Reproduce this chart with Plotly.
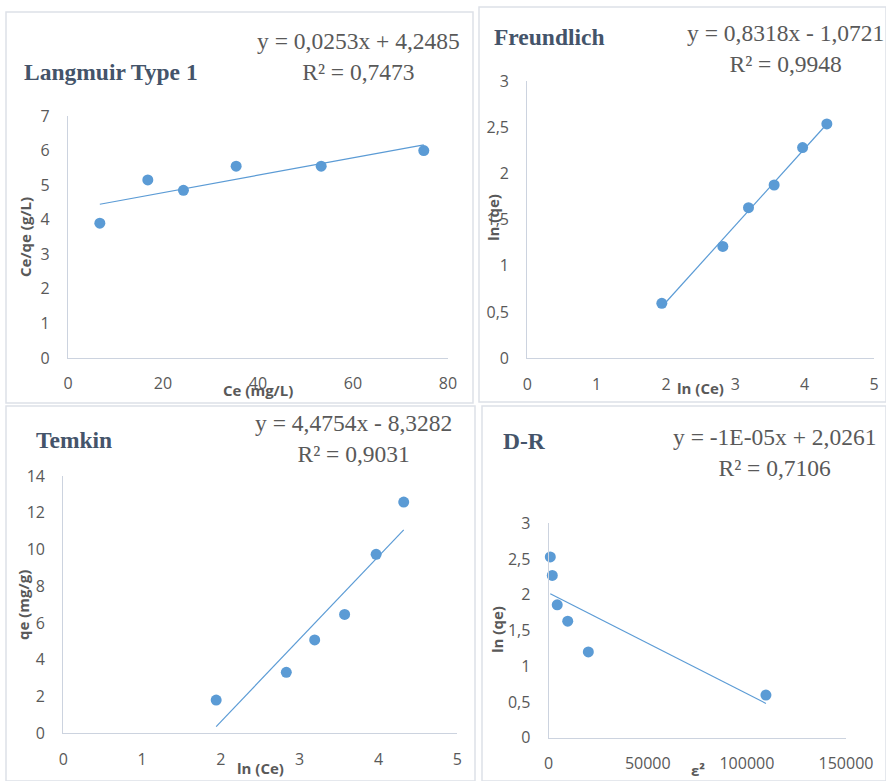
import numpy as np
import plotly.graph_objects as go

# ---------------- data ----------------
lang_ce = [6.7, 16.8, 24.3, 35.4, 53.3, 74.9]
lang_ceqe = [3.9, 5.15, 4.85, 5.55, 5.55, 6.0]

freu_lnce = [1.94, 2.82, 3.19, 3.56, 3.97, 4.32]
freu_lnqe = [0.595, 1.21, 1.63, 1.875, 2.28, 2.535]

temk_lnce = [1.94, 2.83, 3.19, 3.57, 3.97, 4.32]
temk_qe = [1.81, 3.32, 5.08, 6.47, 9.74, 12.58]

dr_eps2 = [800, 1800, 4300, 9600, 20000, 109600]
dr_lnqe = [2.53, 2.27, 1.86, 1.63, 1.20, 0.597]

titles = ["Langmuir Type 1", "Freundlich", "Temkin", "D-R"]
equations = [
    "y = 0,0253x + 4,2485<br>R² = 0,7473",
    "y = 0,8318x - 1,0721<br>R² = 0,9948",
    "y = 4,4754x - 8,3282<br>R² = 0,9031",
    "y = -1E-05x + 2,0261<br>R² = 0,7106",
]
xtitles = ["Ce (mg/L)", "ln (Ce)", "ln (Ce)", "ε²"]
ytitles = ["Ce/qe (g/L)", "ln (qe)", "qe (mg/g)", "ln (qe)"]

lang_xticks = [0, 20, 40, 60, 80]
lang_yticks = [0, 1, 2, 3, 4, 5, 6, 7]
ln_xticks = [0, 1, 2, 3, 4, 5]
half_yticks = [0, 0.5, 1, 1.5, 2, 2.5, 3]
half_ytext = ["0", "0,5", "1", "1,5", "2", "2,5", "3"]
temk_yticks = [0, 2, 4, 6, 8, 10, 12, 14]
dr_xticks = [0, 50000, 100000, 150000]

# ---------------- layout helpers ----------------
W, H = 886, 781
def px(x):
    return x / W
def py(y):
    return 1 - y / H

BLUE = "#5B9BD5"
TICK = "#595959"
AXL = "#CCD3DF"
TITLEC = "#44546A"
EQC = "#595959"

fig = go.Figure()

panels = [
    dict(x=lang_ce, y=lang_ceqe, dom=(68, 448, 116, 358), xr=[0, 80], yr=[0, 7],
         xt=lang_xticks, xtt=[str(v) for v in lang_xticks],
         yt=lang_yticks, ytt=[str(v) for v in lang_yticks],
         title_pos=(22, 72), eq_pos=(358, 57), xt_pos=(258, 390), yt_pos=(25, 237)),
    dict(x=freu_lnce, y=freu_lnqe, dom=(527.3, 874, 81, 358.3), xr=[0, 5], yr=[0, 3],
         xt=ln_xticks, xtt=[str(v) for v in ln_xticks],
         yt=half_yticks, ytt=half_ytext,
         title_pos=(492, 37), eq_pos=(785, 48), xt_pos=(700, 388), yt_pos=(493, 218)),
    dict(x=temk_lnce, y=temk_qe, dom=(63.3, 457.3, 476, 733.3), xr=[0, 5], yr=[0, 14],
         xt=ln_xticks, xtt=[str(v) for v in ln_xticks],
         yt=temk_yticks, ytt=[str(v) for v in temk_yticks],
         title_pos=(34, 440), eq_pos=(353, 438), xt_pos=(260, 768), yt_pos=(23, 605)),
    dict(x=dr_eps2, y=dr_lnqe, dom=(548.7, 846, 523.3, 737.7), xr=[0, 150000], yr=[0, 3],
         xt=dr_xticks, xtt=[str(v) for v in dr_xticks],
         yt=half_yticks, ytt=half_ytext,
         title_pos=(501, 441), eq_pos=(774, 452), xt_pos=(698, 770), yt_pos=(497, 630)),
]

annotations = []
shapes = []

# panel borders (open sides where the panel runs off the page)
boxes = [(6, 12, 473, 403), (479, 7, 886, 402), (6, 406, 475, 781), (482, 406, 886, 781)]
for (x0, y0, x1, y1) in boxes:
    shapes.append(dict(type="rect", xref="paper", yref="paper",
                       x0=px(x0), x1=px(x1), y0=py(y1), y1=py(y0),
                       line=dict(color="#DDE1E8", width=1.5), layer="below"))

for i, p in enumerate(panels):
    n = "" if i == 0 else str(i + 1)
    xa, ya = "x" + n, "y" + n
    fig.add_trace(go.Scatter(x=p["x"], y=p["y"], mode="markers", xaxis=xa, yaxis=ya,
                             marker=dict(color=BLUE, size=11), showlegend=False,
                             cliponaxis=False))
    k, b = np.polyfit(p["x"], p["y"], 1)
    xs = np.array([min(p["x"]), max(p["x"])])
    fig.add_trace(go.Scatter(x=xs, y=k * xs + b, mode="lines", xaxis=xa, yaxis=ya,
                             line=dict(color=BLUE, width=1.2), showlegend=False,
                             cliponaxis=False))
    x0, x1, y0, y1 = p["dom"]
    fig.update_layout(**{
        "xaxis" + n: dict(domain=[px(x0), px(x1)], range=p["xr"], anchor=ya,
                          showgrid=False, zeroline=False, showline=True,
                          linecolor=AXL, linewidth=1.2, ticks="", automargin=False,
                          tickvals=p["xt"], ticktext=p["xtt"],
                          tickfont=dict(family="Open Sans", size=16, color=TICK),
                          ticklabelstandoff=11),
        "yaxis" + n: dict(domain=[py(y1), py(y0)], range=p["yr"], anchor=xa,
                          showgrid=False, zeroline=False, showline=True,
                          linecolor=AXL, linewidth=1.2, ticks="", automargin=False,
                          tickvals=p["yt"], ticktext=p["ytt"],
                          tickfont=dict(family="Open Sans", size=16, color=TICK),
                          ticklabelstandoff=14),
    })
    tx, ty = p["title_pos"]
    annotations.append(dict(text="<b>" + titles[i] + "</b>", xref="paper", yref="paper",
                            x=px(tx), y=py(ty), xanchor="left", yanchor="middle",
                            showarrow=False,
                            font=dict(family="Liberation Serif", size=23.5, color=TITLEC)))
    ex, ey = p["eq_pos"]
    annotations.append(dict(text=equations[i], xref="paper", yref="paper",
                            x=px(ex), y=py(ey), xanchor="center", yanchor="middle",
                            align="center", showarrow=False,
                            font=dict(family="Liberation Serif", size=23.5, color=EQC)))
    ax_, ay_ = p["xt_pos"]
    annotations.append(dict(text="<b>" + xtitles[i] + "</b>", xref="paper", yref="paper",
                            x=px(ax_), y=py(ay_), xanchor="center", yanchor="middle",
                            showarrow=False,
                            font=dict(family="Open Sans", size=15, color=TICK)))
    bx, by = p["yt_pos"]
    annotations.append(dict(text="<b>" + ytitles[i] + "</b>", xref="paper", yref="paper",
                            x=px(bx), y=py(by), xanchor="center", yanchor="middle",
                            textangle=-90, showarrow=False,
                            font=dict(family="Open Sans", size=15, color=TICK)))

fig.update_layout(width=W, height=H, autosize=False,
                  margin=dict(l=0, r=0, t=0, b=0, pad=0, autoexpand=False),
                  paper_bgcolor="white", plot_bgcolor="white",
                  annotations=annotations, shapes=shapes)

fig.write_html("out.html")
